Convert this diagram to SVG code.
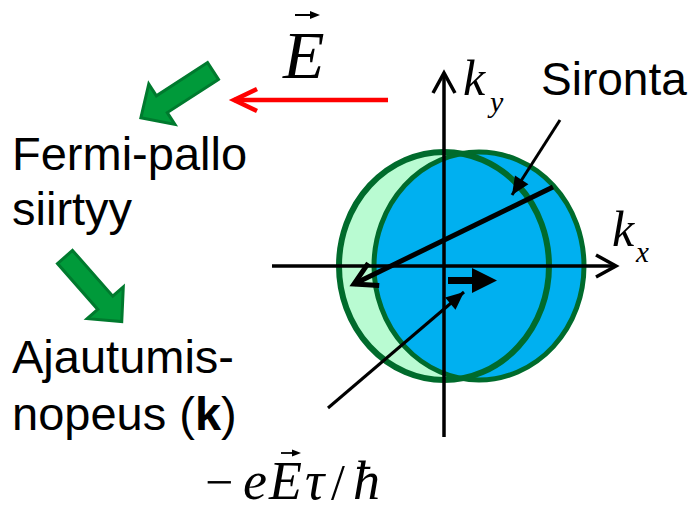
<svg xmlns="http://www.w3.org/2000/svg" width="694" height="511" viewBox="0 0 694 511">
  <style>
    .sans { font-family: "Liberation Sans", Arial, sans-serif; fill: #000; }
    .math { font-family: "Liberation Serif", "Times New Roman", serif; font-style: italic; fill: #000; }
    .ring { stroke: #006B2C; stroke-width: 6; }
    .blk { stroke: #000; fill: none; }
    .garrow { fill: #009A3A; stroke: #007A2E; stroke-width: 3; stroke-linejoin: miter; }
  </style>
  <defs>
    <marker id="chevAxis" markerUnits="userSpaceOnUse" viewBox="-30 -20 40 40" markerWidth="40" markerHeight="40" refX="0" refY="0" orient="auto" overflow="visible">
      <path d="M-20,-11 L0,0 L-20,11" fill="none" stroke="#000" stroke-width="3.5" stroke-linejoin="miter"/>
    </marker>
    <marker id="chevBig" markerUnits="userSpaceOnUse" viewBox="-30 -20 40 40" markerWidth="40" markerHeight="40" refX="0" refY="0" orient="auto" overflow="visible">
      <path d="M-22,-12.5 L0,0 L-22,12.5" fill="none" stroke="#000" stroke-width="5" stroke-linejoin="miter"/>
    </marker>
    <marker id="chevRed" markerUnits="userSpaceOnUse" viewBox="-30 -20 40 40" markerWidth="40" markerHeight="40" refX="0" refY="0" orient="auto" overflow="visible">
      <path d="M-23,-11 L0,0 L-23,11" fill="none" stroke="#FF0000" stroke-width="4.5" stroke-linejoin="miter"/>
    </marker>
    <marker id="tri" markerUnits="userSpaceOnUse" viewBox="-20 -10 22 20" markerWidth="22" markerHeight="20" refX="0" refY="0" orient="auto" overflow="visible">
      <path d="M-18,-8 L0,0 L-18,8 Z" fill="#000"/>
    </marker>
    <path id="blockArrow" d="M0,-10 L61,-10 L61,-24 L86,0 L61,24 L61,10 L0,10 Z"/>
  </defs>

  <rect width="694" height="511" fill="#fff"/>

  <!-- Fermi spheres -->
  <g id="fermi-spheres">
    <ellipse cx="444" cy="266" rx="105" ry="114" fill="#B9FBD2"/>
    <ellipse cx="479" cy="266" rx="105" ry="114" fill="#00B0F0"/>
    <ellipse cx="444" cy="266" rx="105" ry="114" fill="none" class="ring"/>
    <ellipse cx="479" cy="266" rx="105" ry="114" fill="none" class="ring" style="stroke-width:5"/>
  </g>

  <!-- Axes -->
  <g id="axes">
    <line x1="444" y1="437" x2="444" y2="73" class="blk" stroke-width="3.5" marker-end="url(#chevAxis)"/>
    <line x1="272" y1="266" x2="616" y2="266" class="blk" stroke-width="3.5" marker-end="url(#chevAxis)"/>
  </g>

  <g id="label-ky">
    <text class="math" x="463" y="95" font-size="50">k</text>
    <text class="math" x="490" y="112" font-size="30">y</text>
  </g>
  <g id="label-kx">
    <text class="math" x="612" y="246" font-size="50">k</text>
    <text class="math" x="636" y="262" font-size="29">x</text>
  </g>

  <g id="label-sironta">
    <text class="sans" x="541" y="95" font-size="46">Sironta</text>
  </g>

  <g id="label-fermi">
    <text class="sans" x="12" y="170" font-size="47">Fermi-pallo</text>
    <text class="sans" x="12" y="225" font-size="47">siirtyy</text>
  </g>

  <g id="label-ajautumis">
    <text class="sans" x="12" y="373" font-size="47">Ajautumis-</text>
    <text class="sans" x="12" y="430" font-size="47">nopeus (<tspan font-weight="bold">k</tspan>)</text>
  </g>

  <g id="label-E">
    <text class="math" x="283" y="78" font-size="68">E</text>
    <line x1="295" y1="15" x2="312" y2="15" stroke="#000" stroke-width="2"/>
    <path d="M310,11 L320,15 L310,19 Z" fill="#000"/>
  </g>

  <g id="label-shift">
    <text x="205" y="499" font-family="'Liberation Serif', 'Times New Roman', serif" font-size="50">−</text>
    <text class="math" x="243" y="499" font-size="54">e</text>
    <text class="math" x="269" y="499" font-size="54">E</text>
    <line x1="281" y1="453" x2="294" y2="453" stroke="#000" stroke-width="1.8"/>
    <path d="M292,449.5 L301,453 L292,456.5 Z" fill="#000"/>
    <text class="math" x="305" y="499" font-size="54">τ</text>
    <text x="331" y="499" font-family="'Liberation Serif', 'Times New Roman', serif" font-size="50">/</text>
    <text class="math" x="353" y="499" font-size="54">ħ</text>
  </g>

  <!-- Green process arrows -->
  <g id="green-arrow-1">
    <use href="#blockArrow" class="garrow" transform="translate(213,71) rotate(147)"/>
  </g>
  <g id="green-arrow-2">
    <use href="#blockArrow" class="garrow" transform="translate(65,257) rotate(48.7)"/>
  </g>

  <!-- Connectors -->
  <g id="connectors">
    <line x1="388" y1="100" x2="234" y2="100" stroke="#FF0000" stroke-width="4.5" marker-end="url(#chevRed)"/>
    <line x1="553" y1="187" x2="354" y2="284" class="blk" stroke-width="5" marker-end="url(#chevBig)"/>
    <line x1="560" y1="120" x2="512" y2="195" class="blk" stroke-width="3" marker-end="url(#tri)"/>
    <line x1="328" y1="408" x2="464" y2="292" class="blk" stroke-width="3" marker-end="url(#tri)"/>
    <path d="M448,277 L472,277 L472,268 L497,280.5 L472,293 L472,284 L448,284 Z" fill="#000"/>
  </g>
</svg>
